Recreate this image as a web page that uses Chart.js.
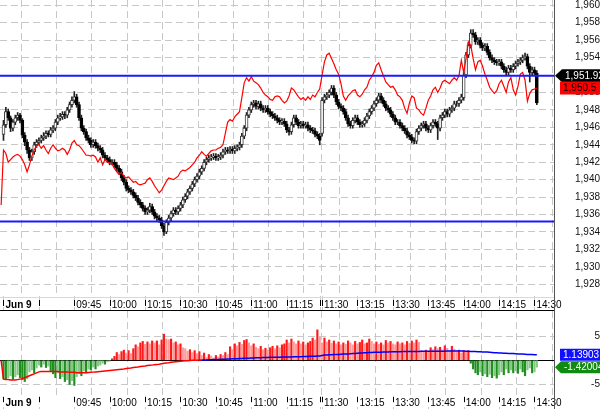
<!DOCTYPE html>
<html><head><meta charset="utf-8">
<script src="https://cdn.jsdelivr.net/npm/chart.js@4.4.1/dist/chart.umd.min.js"></script>
<style>
html,body{margin:0;padding:0;background:#fff;}
#wrap{position:relative;width:600px;height:409px;overflow:hidden;background:#fff;}
canvas{position:absolute;left:0;display:block;}
#c1{top:0;} #c2{top:311px;}
</style></head><body>
<div id="wrap"><canvas id="c1" width="600" height="311"></canvas><canvas id="c2" width="600" height="98"></canvas></div>
<script>
// ---------- DATA (1-minute bars, index 1 = 09:15) ----------
const firstBar = 1;
const opens = [
1945.2,1946.3,1947.8,1947.1,1945.9,1946.6,1947.1,1947.4,1946.8,1945.1,
1944.3,1943.4,1942.5,1943.2,1944.0,1944.3,1944.5,1944.8,1945.0,1945.3,
1945.2,1945.7,1945.9,1946.6,1947.1,1947.2,1947.5,1947.4,1948.0,1948.6,
1949.1,1949.5,1948.6,1947.1,1945.9,1945.5,1944.8,1944.5,1944.0,1944.3,
1943.9,1943.6,1943.4,1942.8,1942.5,1942.3,1942.0,1942.0,1941.7,1941.3,
1940.9,1940.2,1939.7,1939.0,1938.8,1938.6,1938.2,1937.9,1937.4,1937.1,
1936.7,1936.3,1936.5,1936.9,1936.3,1935.8,1935.6,1935.4,1934.7,1934.0,
1935.1,1935.6,1936.1,1936.5,1936.3,1936.7,1937.1,1937.7,1938.1,1938.6,
1939.0,1939.5,1940.0,1940.4,1940.9,1941.3,1942.0,1942.3,1942.5,1942.6,
1942.7,1942.5,1942.6,1942.8,1943.2,1943.4,1943.3,1943.5,1943.3,1943.6,
1943.7,1944.0,1945.0,1945.9,1947.4,1948.0,1948.6,1948.8,1948.4,1948.7,
1948.2,1948.0,1948.2,1947.8,1947.5,1947.3,1947.1,1946.8,1946.6,1946.7,
1946.4,1945.7,1945.5,1946.3,1947.1,1946.6,1946.2,1946.4,1946.2,1946.3,
1945.9,1945.7,1945.6,1945.2,1945.0,1945.3,1949.1,1949.5,1949.7,1950.0,
1950.5,1949.7,1948.9,1948.4,1948.2,1947.8,1947.1,1946.4,1946.2,1946.8,
1947.1,1946.6,1946.3,1946.4,1946.8,1947.3,1947.8,1948.2,1948.7,1949.1,
1949.6,1949.1,1948.7,1948.2,1948.0,1947.5,1947.1,1946.6,1946.6,1946.2,
1945.9,1945.6,1945.1,1944.9,1944.5,1944.4,1945.5,1945.9,1946.2,1946.4,
1945.9,1945.7,1946.2,1946.6,1946.4,1945.9,1947.1,1947.4,1947.8,1947.5,
1948.0,1948.2,1948.7,1948.7,1949.1,1949.4,1952.0,1954.3,1955.4,1956.8,
1956.6,1955.8,1956.0,1955.4,1955.1,1955.3,1954.6,1954.0,1953.7,1953.5,
1953.4,1953.5,1953.0,1952.6,1952.3,1952.8,1952.6,1953.0,1953.3,1953.5,
1953.7,1954.0,1954.1,1953.0,1952.3,1952.6,1952.2];
const highs = [
1946.8,1948.3,1948.1,1947.3,1946.9,1947.4,1947.7,1947.6,1947.0,1945.4,
1944.6,1943.7,1943.5,1944.3,1944.6,1944.8,1945.1,1945.4,1945.6,1945.6,
1946.0,1946.2,1946.9,1947.4,1947.6,1947.8,1947.8,1948.3,1948.9,1949.5,
1950.1,1949.8,1948.9,1947.4,1946.2,1945.8,1945.1,1944.8,1944.6,1944.6,
1944.2,1943.9,1943.7,1943.1,1942.8,1942.6,1942.3,1942.3,1942.0,1941.6,
1941.2,1940.5,1940.0,1939.3,1939.1,1938.9,1938.5,1938.2,1937.7,1937.4,
1937.0,1936.8,1937.3,1937.2,1936.6,1936.1,1935.9,1935.7,1935.0,1935.4,
1935.9,1936.4,1936.8,1936.8,1937.0,1937.4,1938.0,1938.4,1938.9,1939.3,
1939.8,1940.3,1940.7,1941.2,1941.6,1942.3,1942.6,1942.8,1942.9,1943.0,
1943.0,1942.9,1943.1,1943.5,1943.7,1943.7,1943.8,1943.8,1943.9,1944.0,
1944.3,1945.3,1946.2,1947.7,1948.3,1948.9,1949.1,1949.1,1949.0,1949.0,
1948.5,1948.5,1948.5,1948.1,1947.8,1947.6,1947.4,1947.1,1947.0,1947.0,
1946.7,1946.0,1946.6,1947.4,1947.4,1946.9,1946.7,1946.7,1946.6,1946.6,
1946.2,1946.0,1945.9,1945.5,1945.3,1949.4,1949.8,1950.0,1950.3,1950.8,
1950.8,1950.0,1949.2,1948.7,1948.5,1948.1,1947.4,1946.7,1947.1,1947.4,
1947.4,1946.9,1946.7,1947.1,1947.6,1948.1,1948.5,1949.0,1949.4,1949.9,
1949.9,1949.4,1949.0,1948.5,1948.3,1947.8,1947.4,1946.9,1946.9,1946.5,
1946.2,1945.9,1945.4,1945.2,1944.8,1945.8,1946.2,1946.5,1946.7,1946.7,
1946.2,1946.5,1946.9,1946.9,1946.7,1947.4,1947.7,1948.1,1948.1,1948.3,
1948.5,1949.0,1949.0,1949.4,1949.8,1952.3,1954.6,1955.7,1957.2,1957.2,
1956.9,1956.3,1956.3,1955.7,1955.6,1955.6,1954.9,1954.3,1954.0,1953.8,
1953.8,1953.8,1953.3,1952.9,1953.1,1953.1,1953.3,1953.6,1953.8,1954.0,
1954.3,1954.5,1954.4,1953.3,1952.9,1952.9,1952.5];
const lows = [
1944.5,1946.0,1946.8,1945.5,1945.6,1946.3,1946.8,1946.5,1944.8,1943.9,
1943.0,1942.2,1942.2,1942.9,1943.7,1944.0,1944.2,1944.5,1944.7,1944.9,
1944.9,1945.4,1945.6,1946.3,1946.8,1946.9,1947.0,1947.1,1947.7,1948.3,
1948.8,1948.3,1946.8,1945.6,1945.2,1944.5,1944.2,1943.7,1943.7,1943.6,
1943.3,1943.1,1942.5,1942.2,1942.0,1941.7,1941.7,1941.4,1941.0,1940.6,
1939.9,1939.4,1938.7,1938.5,1938.3,1937.9,1937.6,1937.1,1936.8,1936.4,
1936.0,1936.0,1936.2,1936.0,1935.5,1935.3,1935.1,1934.4,1933.6,1933.8,
1934.8,1935.3,1935.8,1936.0,1936.0,1936.4,1936.8,1937.4,1937.8,1938.3,
1938.7,1939.2,1939.7,1940.1,1940.6,1941.0,1941.7,1942.0,1942.2,1942.3,
1942.2,1942.2,1942.3,1942.5,1942.9,1943.0,1943.0,1943.0,1943.0,1943.3,
1943.4,1943.7,1944.7,1945.6,1947.1,1947.7,1948.3,1948.1,1948.1,1947.9,
1947.7,1947.7,1947.5,1947.2,1947.0,1946.8,1946.5,1946.3,1946.3,1946.1,
1945.4,1945.1,1945.2,1946.0,1946.3,1945.9,1945.9,1945.9,1945.9,1945.6,
1945.4,1945.3,1944.9,1944.7,1944.0,1945.0,1948.8,1949.2,1949.4,1949.7,
1949.4,1948.6,1948.1,1947.9,1947.5,1946.8,1946.1,1945.9,1945.9,1946.5,
1946.3,1946.0,1946.0,1946.1,1946.5,1947.0,1947.5,1947.9,1948.4,1948.8,
1948.8,1948.4,1947.9,1947.7,1947.2,1946.8,1946.3,1946.3,1945.9,1945.6,
1945.3,1944.8,1944.6,1944.2,1944.1,1944.1,1945.2,1945.6,1945.9,1945.6,
1945.4,1945.4,1945.9,1946.1,1944.6,1945.6,1946.8,1947.1,1947.2,1947.2,
1947.7,1947.9,1948.4,1948.4,1948.8,1949.1,1951.7,1954.0,1955.1,1956.3,
1955.5,1955.5,1955.1,1954.8,1954.8,1954.3,1953.7,1953.4,1953.2,1953.1,
1953.1,1952.7,1952.3,1952.0,1952.0,1952.3,1952.3,1952.7,1953.0,1953.2,
1953.4,1953.7,1952.7,1951.2,1952.0,1951.9,1948.6];
const closes = [
1946.3,1947.8,1947.1,1945.9,1946.6,1947.1,1947.4,1946.8,1945.1,1944.3,
1943.4,1942.5,1943.2,1944.0,1944.3,1944.5,1944.8,1945.0,1945.3,1945.2,
1945.7,1945.9,1946.6,1947.1,1947.2,1947.5,1947.4,1948.0,1948.6,1949.1,
1949.5,1948.6,1947.1,1945.9,1945.5,1944.8,1944.5,1944.0,1944.3,1943.9,
1943.6,1943.4,1942.8,1942.5,1942.3,1942.0,1942.0,1941.7,1941.3,1940.9,
1940.2,1939.7,1939.0,1938.8,1938.6,1938.2,1937.9,1937.4,1937.1,1936.7,
1936.3,1936.5,1936.9,1936.3,1935.8,1935.6,1935.4,1934.7,1934.0,1935.1,
1935.6,1936.1,1936.5,1936.3,1936.7,1937.1,1937.7,1938.1,1938.6,1939.0,
1939.5,1940.0,1940.4,1940.9,1941.3,1942.0,1942.3,1942.5,1942.6,1942.7,
1942.5,1942.6,1942.8,1943.2,1943.4,1943.3,1943.5,1943.3,1943.6,1943.7,
1944.0,1945.0,1945.9,1947.4,1948.0,1948.6,1948.8,1948.4,1948.7,1948.2,
1948.0,1948.2,1947.8,1947.5,1947.3,1947.1,1946.8,1946.6,1946.7,1946.4,
1945.7,1945.5,1946.3,1947.1,1946.6,1946.2,1946.4,1946.2,1946.3,1945.9,
1945.7,1945.6,1945.2,1945.0,1944.5,1949.1,1949.5,1949.7,1950.0,1950.5,
1949.7,1948.9,1948.4,1948.2,1947.8,1947.1,1946.4,1946.2,1946.8,1947.1,
1946.6,1946.3,1946.4,1946.8,1947.3,1947.8,1948.2,1948.7,1949.1,1949.6,
1949.1,1948.7,1948.2,1948.0,1947.5,1947.1,1946.6,1946.6,1946.2,1945.9,
1945.6,1945.1,1944.9,1944.5,1944.4,1945.5,1945.9,1946.2,1946.4,1945.9,
1945.7,1946.2,1946.6,1946.4,1945.9,1947.1,1947.4,1947.8,1947.5,1948.0,
1948.2,1948.7,1948.7,1949.1,1949.5,1952.0,1954.3,1955.4,1956.8,1956.6,
1955.8,1956.0,1955.4,1955.1,1955.3,1954.6,1954.0,1953.7,1953.5,1953.4,
1953.5,1953.0,1952.6,1952.3,1952.8,1952.6,1953.0,1953.3,1953.5,1953.7,
1954.0,1954.1,1953.0,1952.3,1952.6,1952.2,1948.8];
// comparison line (red), index 0 = pre-open
const refLine = [1937.1,
1943.4,1943.0,1942.0,1942.3,1942.6,1942.8,1942.9,1942.7,1942.3,1941.7,
1940.9,1941.7,1942.7,1943.4,1943.9,1944.0,1943.6,1943.9,1943.4,1943.0,
1943.6,1944.0,1943.6,1943.3,1943.4,1943.6,1943.4,1942.9,1943.4,1944.2,
1944.5,1944.0,1943.9,1943.6,1943.2,1942.8,1942.8,1942.7,1942.8,1942.6,
1942.0,1942.5,1941.7,1942.3,1942.0,1941.9,1941.8,1941.3,1940.9,1940.6,
1940.8,1940.4,1940.2,1940.3,1940.0,1939.7,1939.8,1939.5,1939.4,1939.5,
1939.6,1940.0,1940.2,1939.8,1939.3,1938.9,1938.5,1938.8,1939.3,1939.8,
1940.2,1940.1,1940.0,1940.2,1940.4,1940.9,1941.1,1941.0,1941.2,1941.4,
1941.7,1942.0,1942.5,1942.8,1943.2,1942.9,1942.7,1943.0,1943.3,1943.4,
1943.4,1943.6,1943.7,1944.0,1945.3,1946.6,1946.9,1946.7,1947.2,1947.5,
1947.8,1949.4,1951.1,1951.7,1951.3,1951.8,1951.3,1951.1,1950.9,1950.5,
1950.0,1949.7,1949.5,1949.2,1949.1,1949.5,1949.6,1949.5,1949.1,1948.8,
1949.0,1949.6,1950.5,1950.3,1949.9,1949.5,1949.2,1949.4,1949.1,1949.5,
1949.2,1949.7,1949.5,1950.0,1950.4,1952.0,1953.5,1954.3,1954.5,1953.9,
1953.3,1952.6,1952.1,1951.0,1949.6,1949.1,1949.6,1949.9,1950.2,1950.3,
1949.7,1949.5,1949.8,1950.3,1950.6,1951.4,1951.8,1952.3,1953.1,1953.4,
1952.6,1951.9,1951.2,1950.9,1950.6,1950.7,1950.3,1949.7,1949.5,1949.1,
1948.2,1947.6,1948.8,1949.6,1949.4,1948.2,1948.0,1947.6,1947.4,1948.2,
1949.1,1949.6,1950.3,1950.6,1950.0,1950.5,1951.2,1951.4,1951.2,1951.0,
1951.4,1951.7,1951.4,1951.9,1953.7,1952.3,1953.9,1955.8,1955.4,1953.9,
1952.6,1953.5,1953.7,1953.0,1952.1,1951.4,1950.6,1950.2,1949.9,1950.2,
1951.0,1951.4,1950.7,1950.0,1951.2,1951.7,1950.3,1949.7,1950.7,1952.1,
1952.3,1951.4,1949.0,1949.9,1950.3,1950.4,1950.5];
const levels = [1951.92, 1935.2];
// oscillator histogram and its running line, index 0 = pre-open
const histValues = [null,
-3.8,-4.0,-3.6,-3.2,-3.9,-3.4,-3.0,-3.6,-4.0,-4.4,
-3.8,-2.4,-2.0,-2.6,-1.6,-1.0,-1.4,-0.8,-1.5,-1.2,
-2.2,-2.8,-3.6,-2.6,-3.8,-3.4,-4.4,-4.0,-5.0,-4.2,
-5.2,-3.4,-2.8,-3.2,-2.2,-2.6,-1.8,-2.0,-1.4,-1.8,
-1.2,-1.0,-0.6,-0.8,-0.3,-0.2,0.3,0.8,1.6,1.2,
1.8,2.1,1.5,2.0,1.4,2.4,3.2,2.8,3.6,3.9,
3.3,3.8,3.4,4.0,3.6,4.0,3.2,4.2,5.4,4.4,
4.3,4.4,3.6,3.8,3.2,3.4,2.6,2.4,1.9,2.2,
1.6,2.0,1.4,1.8,1.0,1.5,0.6,1.2,0.9,0.5,
1.0,0.7,1.2,1.0,1.6,1.2,2.8,2.2,3.4,3.0,
3.7,3.3,4.1,4.3,3.6,3.0,3.4,2.7,2.4,2.9,
2.2,2.5,2.1,2.6,2.9,2.4,3.0,2.6,3.2,3.4,
4.2,3.6,4.4,3.8,3.4,4.0,3.4,3.8,3.2,3.6,
3.9,4.6,4.2,6.3,4.8,3.6,4.6,3.8,4.2,3.5,
4.0,3.4,3.8,3.2,3.6,3.3,4.0,3.6,3.2,3.9,
3.4,3.7,4.2,3.4,3.6,4.4,3.9,3.4,3.8,3.3,
3.6,3.2,4.1,3.6,3.9,3.4,3.2,3.8,3.4,3.6,
3.2,3.9,3.5,4.0,3.6,4.2,3.7,2.0,1.8,2.1,
1.9,2.6,2.2,2.8,2.4,2.7,2.2,3.0,2.5,2.0,
2.9,2.3,1.8,2.1,1.5,2.0,1.8,2.0,-0.6,-1.8,
-2.6,-3.0,-2.4,-3.2,-2.8,-3.4,-2.9,-3.6,-3.2,-3.7,
-3.0,-2.4,-3.0,-1.8,-2.6,-2.0,-2.6,-2.2,-2.7,-1.8,
-2.4,-3.2,-2.0,-1.6,-2.6,-2.4,-1.42004];
const cumValues = [0.0,
-3.9,-4.0,-4.0,-4.1,-4.1,-4.1,-4.0,-3.9,-3.8,-3.6,
-3.4,-3.2,-3.0,-2.8,-2.6,-2.4,-2.3,-2.3,-2.3,-2.3,
-2.3,-2.3,-2.3,-2.3,-2.4,-2.4,-2.4,-2.4,-2.5,-2.5,
-2.5,-2.6,-2.6,-2.6,-2.6,-2.6,-2.55,-2.5,-2.45,-2.4,
-2.35,-2.3,-2.25,-2.2,-2.15,-2.1,-2.05,-2.0,-1.95,-1.9,
-1.85,-1.8,-1.7,-1.65,-1.6,-1.5,-1.45,-1.4,-1.3,-1.25,
-1.2,-1.1,-1.05,-1.0,-0.9,-0.85,-0.8,-0.7,-0.6,-0.55,
-0.5,-0.4,-0.35,-0.3,-0.25,-0.2,-0.15,-0.1,-0.1,-0.05,
0.0,0.02,0.03,0.04,0.05,0.06,0.08,0.1,0.12,0.14,
0.16,0.18,0.2,0.22,0.24,0.26,0.28,0.3,0.32,0.34,
0.36,0.38,0.4,0.42,0.44,0.46,0.48,0.5,0.52,0.54,
0.56,0.58,0.6,0.61,0.62,0.63,0.64,0.65,0.66,0.67,
0.68,0.69,0.7,0.71,0.72,0.74,0.75,0.76,0.78,0.8,
0.82,0.84,0.86,0.88,0.9,1.0,1.1,1.12,1.14,1.16,
1.18,1.2,1.22,1.25,1.28,1.3,1.32,1.35,1.38,1.4,
1.45,1.5,1.52,1.55,1.58,1.6,1.62,1.64,1.65,1.66,
1.68,1.7,1.72,1.74,1.75,1.76,1.77,1.78,1.79,1.8,
1.8,1.81,1.82,1.82,1.83,1.84,1.84,1.85,1.85,1.86,
1.86,1.87,1.87,1.88,1.88,1.88,1.89,1.89,1.9,1.9,
1.9,1.9,1.9,1.9,1.9,1.9,1.88,1.86,1.84,1.82,
1.8,1.78,1.76,1.74,1.72,1.7,1.66,1.62,1.58,1.55,
1.52,1.5,1.48,1.45,1.42,1.4,1.38,1.35,1.32,1.3,
1.28,1.25,1.22,1.2,1.18,1.16,1.13903];
// time axis
const tickIndex  = [1, 16, 31, 46, 61, 76, 91, 106, 121, 135.2, 136, 151, 166, 181, 196, 211, 226];
const tickLabels = ['Jun 9','','09:45','10:00','10:15','10:30','10:45','11:00','11:15','','11:30','13:15','13:30','13:45','14:00','14:15','14:30'];
const priceTicks = [1928,1930,1932,1934,1936,1938,1940,1942,1944,1946,1948,1950,1952,1954,1956,1958,1960];
const oscTicks = [-5, 0, 5];

// ---------- LAYOUT / STYLE ----------
const X_MIN = -0.483, X_MAX = 234.27;
const Y_MIN = 1926.66, Y_MAX = 1960.60;
const O_MIN = -7.39, O_MAX = 10.2;
const FONT = "'Liberation Sans', Arial, sans-serif";
const GRID = '#c8c8c8';
const DASH = [7, 4];

function xScale(bandH, pad) {
  return {
    type: 'linear', min: X_MIN, max: X_MAX, offset: false,
    afterBuildTicks: s => { s.ticks = tickIndex.map(v => ({value: v})); },
    afterFit: s => { s.height = bandH; s.paddingLeft = 0; s.paddingRight = 0; },
    ticks: {
      autoSkip: false, maxRotation: 0, minRotation: 0, align: 'start', padding: pad, labelOffset: 2,
      color: '#000',
      font: c => ({family: FONT, size: 10, weight: (c.index === 0 ? 'bold' : 'normal')}),
      callback: (v, i) => tickLabels[i]
    },
    grid: {color: GRID, lineWidth: 1, drawTicks: false},
    border: {display: false, dash: DASH}
  };
}

function rightLine(chart) {
  const {ctx, chartArea: a} = chart;
  ctx.save();
  ctx.strokeStyle = '#555'; ctx.lineWidth = 1; ctx.setLineDash([]);
  ctx.beginPath(); ctx.moveTo(a.right + 0.5, 0); ctx.lineTo(a.right + 0.5, chart.height); ctx.stroke();
  ctx.restore();
}
function bandGrid(chart, markTop, markBot) {
  const {ctx, chartArea: a, scales: {x}} = chart;
  ctx.save();
  ctx.lineWidth = 1;
  x.ticks.forEach((t, i) => {
    const px = Math.round(x.getPixelForValue(t.value)) + 0.5;
    ctx.strokeStyle = GRID; ctx.setLineDash(DASH);
    ctx.beginPath(); ctx.moveTo(px, a.bottom); ctx.lineTo(px, chart.height); ctx.stroke();
    ctx.strokeStyle = '#000'; ctx.setLineDash([]);
    ctx.beginPath(); ctx.moveTo(px, a.bottom + markTop); ctx.lineTo(px, a.bottom + markBot); ctx.stroke();
  });
  ctx.restore();
}
function tagBox(ctx, tip, body, yc, h, fill, text, tc) {
  ctx.save();
  ctx.beginPath();
  ctx.moveTo(tip, yc);
  ctx.lineTo(body, yc - h / 2);
  ctx.lineTo(600, yc - h / 2);
  ctx.lineTo(600, yc + h / 2);
  ctx.lineTo(body, yc + h / 2);
  ctx.closePath();
  ctx.fillStyle = fill; ctx.fill();
  ctx.fillStyle = tc; ctx.font = '10px ' + FONT; ctx.textAlign = 'left'; ctx.textBaseline = 'middle';
  ctx.fillText(text, body + 3, yc + 0.5);
  ctx.restore();
}

// ---------- MAIN PRICE CHART ----------
const wickData = [], bodyData = [], bodyFill = [], bodyBorder = [];
for (let i = 0; i < closes.length; i++) {
  const xi = i + firstBar;
  wickData.push({x: xi, y: [lows[i], highs[i]]});
  bodyData.push({x: xi, y: [opens[i], closes[i]]});
  const up = closes[i] >= opens[i];
  bodyFill.push(up ? '#ffffff' : '#000000');
  bodyBorder.push(up ? '#3a3a3a' : '#000000');
}
const refData = refLine.map((v, j) => ({x: j, y: v}));
const levelSets = levels.map(v => ({
  type: 'line', data: [{x: X_MIN, y: v}, {x: X_MAX, y: v}],
  borderColor: '#1a1aff', borderWidth: 2, pointRadius: 0, order: 0
}));

const mainPlugin = {
  id: 'mainDeco',
  afterDraw(chart) {
    const {ctx, chartArea: a, scales: {y}} = chart;
    bandGrid(chart, 4, 10);
    ctx.save();
    ctx.strokeStyle = '#d8d8d8'; ctx.lineWidth = 1;
    ctx.beginPath(); ctx.moveTo(0, a.bottom + 1.5); ctx.lineTo(a.right, a.bottom + 1.5); ctx.stroke();
    ctx.strokeStyle = '#000';
    ctx.beginPath(); ctx.moveTo(0, chart.height - 0.5); ctx.lineTo(a.right, chart.height - 0.5); ctx.stroke();
    ctx.restore();
    rightLine(chart);
    const lv = levels[0];
    tagBox(ctx, a.right + 1, a.right + 8, y.getPixelForValue(lv), 13, '#000000',
      lv.toLocaleString('en-US', {minimumFractionDigits: 2}), '#ffffff');
    const last = refLine[refLine.length - 1];
    tagBox(ctx, a.right + 6, a.right + 6, y.getPixelForValue(last), 13, '#ff0000',
      last.toLocaleString('en-US'), '#000000');
  }
};

new Chart(document.getElementById('c1'), {
  type: 'bar',
  data: {
    datasets: [
      ...levelSets,
      {type: 'line', data: refData, borderColor: '#ff0000', borderWidth: 1.2, pointRadius: 0, tension: 0, order: 1},
      {type: 'bar', data: bodyData, backgroundColor: bodyFill, borderColor: bodyBorder, borderWidth: 1,
       borderSkipped: false, barThickness: 3, grouped: false, order: 2},
      {type: 'bar', data: wickData, backgroundColor: '#222', borderWidth: 0, barThickness: 1, grouped: false, order: 3}
    ]
  },
  options: {
    responsive: false, animation: false, devicePixelRatio: 1,
    layout: {padding: 0},
    plugins: {legend: {display: false}, tooltip: {enabled: false}},
    scales: {
      x: xScale(15, 3),
      y: {
        position: 'right', min: Y_MIN, max: Y_MAX,
        afterBuildTicks: s => { s.ticks = priceTicks.map(v => ({value: v})); },
        afterFit: s => { s.width = 46; s.paddingTop = 0; s.paddingBottom = 0; },
        ticks: {padding: 21, crossAlign: 'near', color: '#111', font: {family: FONT, size: 10},
                callback: v => v.toLocaleString('en-US')},
        grid: {color: GRID, lineWidth: 1, drawTicks: false},
        border: {display: false, dash: DASH}
      }
    }
  },
  plugins: [mainPlugin]
});

// ---------- OSCILLATOR CHART ----------
const histData = [], histColors = [];
let prev = 0;
histValues.forEach((v, j) => {
  if (v === null) return;
  histData.push({x: j, y: v});
  if (v >= 0) histColors.push(v >= prev ? '#ff1a1a' : '#ff9a9a');
  else histColors.push(v <= prev ? '#1f8f1f' : '#86c986');
  prev = v;
});
const cumData = cumValues.map((v, j) => ({x: j, y: v}));

const oscPlugin = {
  id: 'oscDeco',
  afterDraw(chart) {
    const {ctx, chartArea: a, scales: {y}} = chart;
    bandGrid(chart, 1, 6);
    rightLine(chart);
    const lc = cumValues[cumValues.length - 1];
    tagBox(ctx, a.right + 6, a.right + 6, y.getPixelForValue(lc), 12, '#1010ff', String(lc), '#ffffff');
    const lh = histValues[histValues.length - 1];
    tagBox(ctx, a.right + 1, a.right + 7, y.getPixelForValue(lh), 12, '#108a10', String(lh), '#ffffff');
  }
};

new Chart(document.getElementById('c2'), {
  type: 'bar',
  data: {
    datasets: [
      {type: 'line', data: cumData, borderWidth: 1.5, pointRadius: 0, tension: 0, order: 0,
       borderColor: '#ff0000',
       segment: {borderColor: c => (c.p1.parsed.y > 0.05 ? '#0000ff' : '#ff0000')}},
      {type: 'bar', data: histData, backgroundColor: histColors, borderWidth: 0, barThickness: 1.5, grouped: false, order: 2}
    ]
  },
  options: {
    responsive: false, animation: false, devicePixelRatio: 1,
    layout: {padding: 0},
    plugins: {legend: {display: false}, tooltip: {enabled: false}},
    scales: {
      x: xScale(13, 1),
      y: {
        position: 'right', min: O_MIN, max: O_MAX,
        afterBuildTicks: s => { s.ticks = oscTicks.map(v => ({value: v})); },
        afterFit: s => { s.width = 46; s.paddingTop = 0; s.paddingBottom = 0; },
        ticks: {padding: 36, crossAlign: 'far', color: '#111', font: {family: FONT, size: 10},
                callback: v => (v === 0 ? '' : String(v))},
        grid: {color: c => (c.tick && c.tick.value === 0 ? '#000000' : GRID), lineWidth: 1, drawTicks: false},
        border: {display: false, dash: c => (c.tick && c.tick.value === 0 ? [] : DASH)}
      }
    }
  },
  plugins: [oscPlugin]
});
</script>
</body></html>
